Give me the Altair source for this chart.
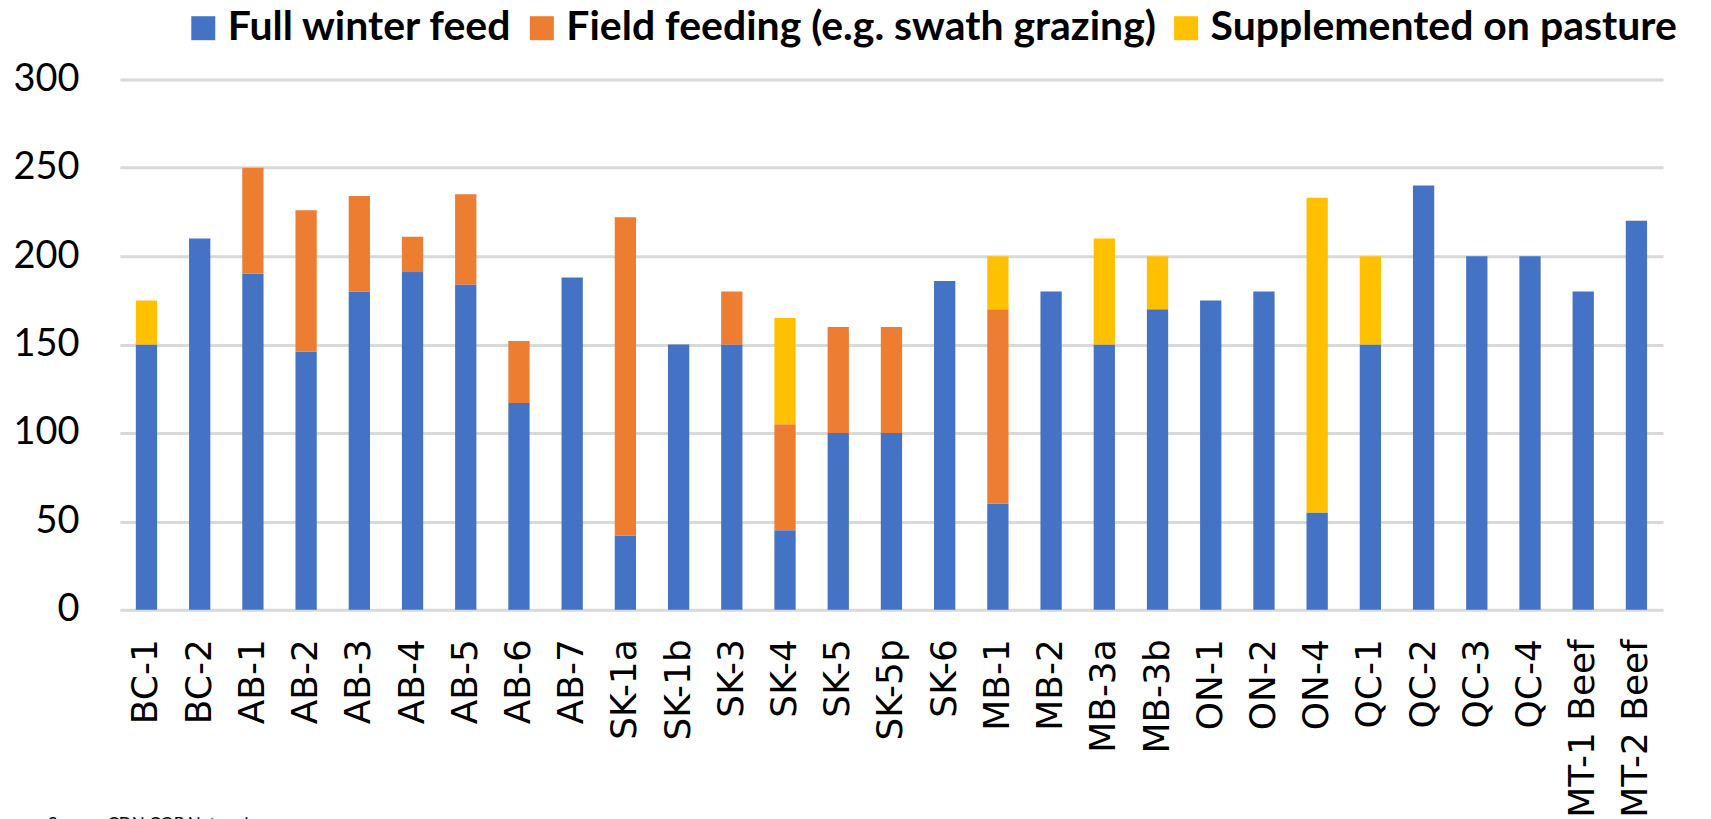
import altair as alt
import pandas as pd

categories = ["BC-1", "BC-2", "AB-1", "AB-2", "AB-3", "AB-4", "AB-5", "AB-6", "AB-7",
              "SK-1a", "SK-1b", "SK-3", "SK-4", "SK-5", "SK-5p", "SK-6", "MB-1", "MB-2",
              "MB-3a", "MB-3b", "ON-1", "ON-2", "ON-4", "QC-1", "QC-2", "QC-3", "QC-4",
              "MT-1 Beef", "MT-2 Beef"]
full_winter_feed = [150, 210, 190, 146, 180, 191, 184, 117, 188,
                    42, 150, 150, 45, 100, 100, 186, 60, 180,
                    150, 170, 175, 180, 55, 150, 240, 200, 200,
                    180, 220]
field_feeding = [0, 0, 60, 80, 54, 20, 51, 35, 0,
                 180, 0, 30, 60, 60, 60, 0, 110, 0,
                 0, 0, 0, 0, 0, 0, 0, 0, 0,
                 0, 0]
supplemented = [25, 0, 0, 0, 0, 0, 0, 0, 0,
                0, 0, 0, 60, 0, 0, 0, 30, 0,
                60, 30, 0, 0, 178, 50, 0, 0, 0,
                0, 0]
series_names = ["Full winter feed", "Field feeding (e.g. swath grazing)", "Supplemented on pasture"]
series_colors = ["#4472C4", "#ED7D31", "#FFC000"]
y_ticks = [0, 50, 100, 150, 200, 250, 300]
source_note = "Source: CDN COP Network"

rows = []
for i, cat in enumerate(categories):
    for k, vals in enumerate([full_winter_feed, field_feeding, supplemented]):
        rows.append({"category": cat, "series": series_names[k], "order": k, "value": vals[i]})
df = pd.DataFrame(rows)

bars = alt.Chart(df).mark_bar().encode(
    x=alt.X("category:N", sort=categories,
            scale=alt.Scale(paddingInner=0.6, paddingOuter=0.3),
            axis=alt.Axis(title=None, labelAngle=-90, labelFont="DejaVu Sans", labelFontSize=36,
                          labelColor="black", labelPadding=29, ticks=False, domain=False,
                          labelOverlap=False)),
    y=alt.Y("value:Q", stack="zero", scale=alt.Scale(domain=[0, 300], nice=False),
            axis=alt.Axis(title=None, values=y_ticks, labelFont="Lato", labelFontSize=38,
                          labelColor="black", labelPadding=41, ticks=False, domain=False,
                          gridColor="#D9D9D9", gridWidth=3, minExtent=107, maxExtent=107)),
    color=alt.Color("series:N", sort=series_names,
                    scale=alt.Scale(domain=series_names, range=series_colors),
                    legend=alt.Legend(title=None, orient="none", direction="horizontal",
                                      legendX=63, legendY=-72, symbolType="square",
                                      symbolSize=576, symbolStrokeWidth=0, labelFont="Lato",
                                      labelFontWeight="bold", labelFontSize=41, labelColor="black",
                                      labelOffset=4, columnPadding=9, padding=0,
                                      labelLimit=1000)),
    order=alt.Order("order:Q"),
)

note = alt.Chart(pd.DataFrame({"t": [source_note]})).mark_text(
    align="left", baseline="top", font="Lato", fontSize=17, color="black"
).encode(text="t:N", x=alt.value(-72), y=alt.value(738))

chart = alt.layer(bars, note).properties(
    width=1545, height=531,
    autosize=alt.AutoSizeParams(type="none"),
    padding={"left": 112, "top": 71, "right": 40, "bottom": 220},
).configure_view(stroke=None)

chart.save("out.html", embed_options={"renderer": "svg", "actions": False})
